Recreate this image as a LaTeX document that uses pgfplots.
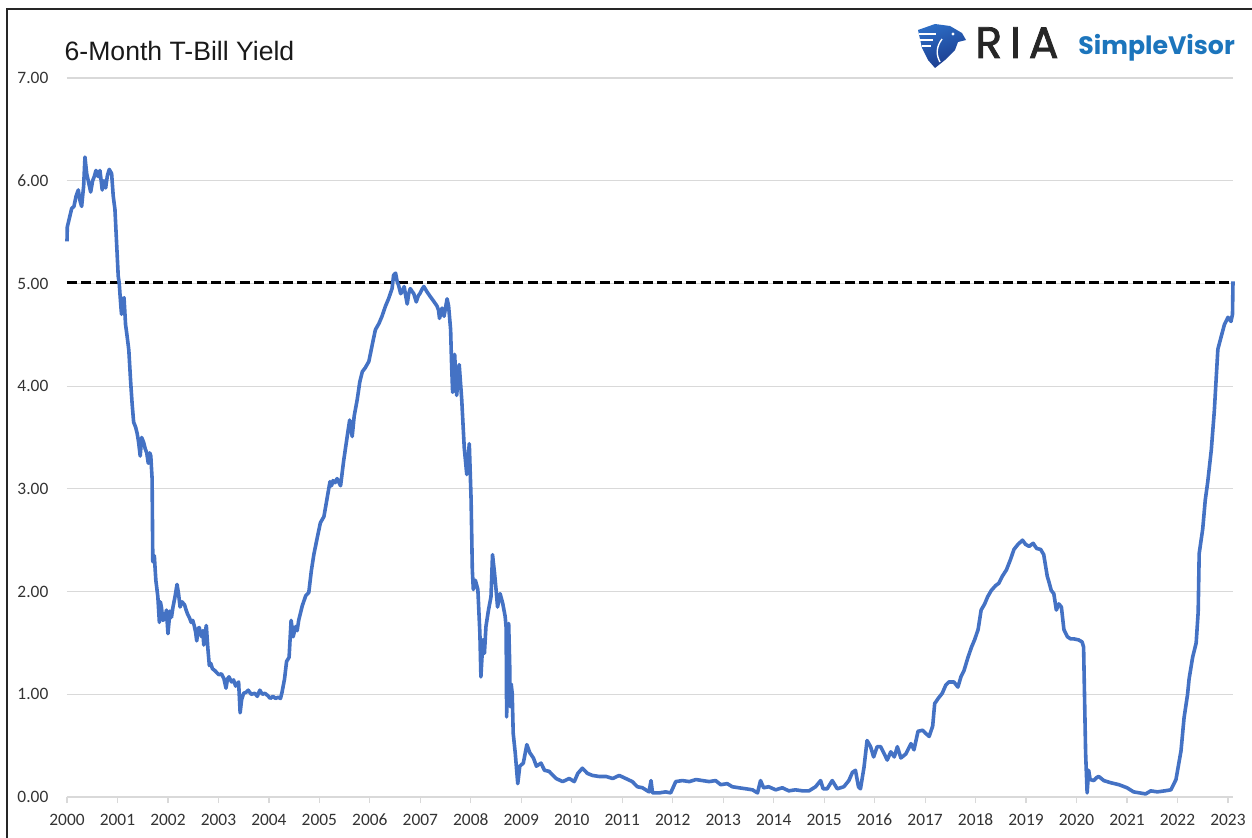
\documentclass[border=0pt]{standalone}
\usepackage{fontspec}
\setmainfont{Carlito}
\newfontfamily\titlefont{Liberation Sans}
\newfontfamily\logofont{Poppins}
\usepackage{pgfplots}
\pgfplotsset{compat=1.18}
\definecolor{lineblue}{HTML}{4472C4}
\definecolor{gridgray}{HTML}{D9D9D9}
\definecolor{ticktext}{HTML}{333333}
\definecolor{logoblue}{HTML}{1C75BC}
\definecolor{logodark}{HTML}{262626}
\definecolor{eagleA}{HTML}{1B3A8C}
\definecolor{eagleB}{HTML}{2C6CC4}
\begin{document}
\begin{tikzpicture}
\useasboundingbox (0pt,0pt) rectangle (626pt,418.5pt);
\begin{scope}[x=1pt,y=1pt]
\draw[line width=1pt, black!85] (3.6,-5) -- (3.6,414) -- (640,414);
% title
\node[anchor=west, font=\titlefont\fontsize{13.3}{15}\selectfont, text=black!90] at (28.8,393) {6-Month T-Bill Yield};
% logo
\shade[top color=eagleB, bottom color=eagleA, shading angle=20]
 (459,403.5) -- (467.5,406.5) -- (475,405.5) -- (481,402) -- (483,398.5) -- (479,397.5) -- (477.5,393.5)
 -- (472.5,388.5) -- (467.5,384.5) -- (464,388.5) -- (461,394.5) -- cycle;
\draw[white, line width=0.7pt] (459.5,401.5) -- (468,401.5);
\draw[white, line width=0.7pt] (460,398.5) -- (466.5,398.5);
\draw[white, line width=0.7pt] (461,395.5) -- (465.5,395.5);
\draw[white, line width=0.7pt] (471,399) .. controls (468,395) and (468,391) .. (470,387.5);
\fill[white] (476.5,401.5) circle (0.8);
\node[anchor=base west, inner sep=0, font=\logofont\fontsize{22}{23}\addfontfeature{LetterSpace=18,FakeBold=1.8}\selectfont, text=logodark] at (487.5,389.5) {RIA};
\node[anchor=base west, inner sep=0, font=\logofont\bfseries\fontsize{12.6}{14}\selectfont, text=logoblue] at (539,391) {SimpleVisor};
\end{scope}
\begin{axis}[
 at={(33.5pt,20pt)}, anchor=south west,
 scale only axis, width=583pt, height=359.5pt,
 xmin=2000, xmax=2023.1, ymin=0, ymax=7,
 axis line style={draw=none},
 clip=false,
 ytick={0,1,2,3,4,5,6,7},
 yticklabels={0.00,1.00,2.00,3.00,4.00,5.00,6.00,7.00},
 ymajorgrids, grid style={gridgray, line width=0.6pt},
 ytick style={draw=none},
 xtick={2000,2001,2002,2003,2004,2005,2006,2007,2008,2009,2010,2011,2012,2013,2014,2015,2016,2017,2018,2019,2020,2021,2022,2023},
 xticklabels={2000,2001,2002,2003,2004,2005,2006,2007,2008,2009,2010,2011,2012,2013,2014,2015,2016,2017,2018,2019,2020,2021,2022,2023},
 xtick pos=bottom, ytick pos=left,
 tick align=outside, major tick length=3pt,
 xtick style={draw=gridgray, line width=0.6pt},
 tick label style={font=\fontsize{8.7}{10}\selectfont, text=ticktext},
 yticklabel style={xshift=-2.8pt},
 xticklabel style={anchor=north, text height=6.2pt, text depth=0pt, yshift=-1.6pt},
]
\addplot[black, line width=1.6pt, dash pattern=on 5pt off 2.2pt] coordinates {(2000,5.01) (2023.1,5.01)};
\addplot[lineblue, line width=1.8pt, line join=round] table {
x y
2000.000 5.41
2000.006 5.55
2000.040 5.62
2000.093 5.73
2000.138 5.75
2000.180 5.85
2000.224 5.91
2000.260 5.80
2000.290 5.75
2000.330 5.95
2000.356 6.23
2000.390 6.07
2000.430 5.98
2000.469 5.89
2000.508 6.00
2000.540 6.04
2000.574 6.10
2000.619 6.04
2000.653 6.10
2000.698 5.91
2000.732 6.00
2000.766 5.93
2000.800 6.05
2000.837 6.11
2000.884 6.07
2000.916 5.85
2000.950 5.72
2000.983 5.39
2001.015 5.07
2001.035 5.00
2001.062 4.81
2001.080 4.70
2001.100 4.85
2001.130 4.86
2001.160 4.60
2001.190 4.49
2001.225 4.35
2001.260 4.05
2001.290 3.83
2001.320 3.65
2001.360 3.60
2001.390 3.54
2001.420 3.45
2001.450 3.32
2001.480 3.50
2001.520 3.45
2001.550 3.39
2001.580 3.35
2001.610 3.25
2001.640 3.35
2001.660 3.32
2001.686 3.10
2001.700 2.29
2001.730 2.35
2001.760 2.11
2001.800 1.95
2001.830 1.70
2001.850 1.90
2001.870 1.85
2001.900 1.72
2001.940 1.74
2001.970 1.82
2002.000 1.59
2002.040 1.81
2002.070 1.75
2002.100 1.85
2002.140 1.95
2002.180 2.07
2002.210 1.98
2002.240 1.85
2002.280 1.90
2002.330 1.87
2002.360 1.82
2002.390 1.78
2002.430 1.74
2002.460 1.70
2002.490 1.72
2002.520 1.67
2002.550 1.60
2002.570 1.52
2002.600 1.64
2002.620 1.65
2002.650 1.58
2002.670 1.56
2002.690 1.62
2002.710 1.48
2002.740 1.60
2002.760 1.67
2002.790 1.45
2002.820 1.28
2002.850 1.30
2002.880 1.25
2002.930 1.23
2003.010 1.19
2003.060 1.20
2003.110 1.15
2003.150 1.06
2003.180 1.15
2003.210 1.17
2003.260 1.12
2003.300 1.14
2003.340 1.08
2003.370 1.10
2003.400 1.12
2003.430 0.82
2003.460 0.95
2003.500 1.01
2003.550 1.02
2003.590 1.04
2003.650 1.00
2003.720 1.01
2003.770 0.98
2003.820 1.04
2003.870 1.00
2003.920 1.01
2003.970 0.99
2004.030 0.96
2004.080 0.98
2004.130 0.96
2004.180 0.97
2004.230 0.96
2004.260 1.02
2004.310 1.15
2004.350 1.32
2004.400 1.36
2004.440 1.72
2004.480 1.56
2004.530 1.66
2004.560 1.62
2004.590 1.72
2004.660 1.86
2004.730 1.96
2004.790 1.99
2004.840 2.20
2004.890 2.36
2004.960 2.53
2005.020 2.67
2005.090 2.73
2005.150 2.90
2005.210 3.07
2005.240 3.03
2005.270 3.08
2005.310 3.06
2005.350 3.10
2005.420 3.03
2005.480 3.27
2005.560 3.54
2005.600 3.67
2005.650 3.51
2005.690 3.71
2005.750 3.87
2005.800 4.04
2005.850 4.14
2005.910 4.18
2005.980 4.24
2006.050 4.41
2006.110 4.55
2006.180 4.61
2006.240 4.68
2006.310 4.78
2006.370 4.85
2006.440 4.95
2006.470 5.08
2006.510 5.10
2006.540 5.02
2006.570 4.98
2006.610 4.90
2006.640 4.92
2006.680 4.97
2006.710 4.88
2006.740 4.80
2006.770 4.90
2006.800 4.95
2006.840 4.92
2006.870 4.90
2006.920 4.82
2006.960 4.88
2006.990 4.90
2007.030 4.94
2007.070 4.97
2007.130 4.92
2007.200 4.87
2007.260 4.83
2007.330 4.78
2007.360 4.74
2007.380 4.66
2007.430 4.76
2007.470 4.68
2007.530 4.85
2007.560 4.78
2007.600 4.55
2007.620 4.20
2007.640 3.94
2007.680 4.31
2007.720 3.91
2007.770 4.21
2007.820 3.87
2007.870 3.40
2007.920 3.14
2007.970 3.44
2008.006 2.89
2008.030 2.21
2008.050 2.02
2008.090 2.11
2008.140 2.02
2008.180 1.59
2008.200 1.17
2008.240 1.53
2008.270 1.40
2008.300 1.66
2008.350 1.82
2008.400 1.95
2008.430 2.36
2008.470 2.18
2008.500 2.02
2008.530 1.85
2008.580 1.98
2008.630 1.89
2008.680 1.76
2008.700 1.65
2008.710 0.78
2008.730 1.60
2008.750 1.69
2008.770 1.30
2008.780 0.88
2008.800 1.10
2008.820 1.01
2008.840 0.62
2008.880 0.43
2008.930 0.13
2008.970 0.30
2009.040 0.33
2009.110 0.51
2009.170 0.43
2009.240 0.38
2009.300 0.30
2009.390 0.33
2009.460 0.26
2009.550 0.25
2009.690 0.18
2009.820 0.15
2009.950 0.18
2010.050 0.15
2010.120 0.23
2010.210 0.28
2010.310 0.23
2010.410 0.21
2010.540 0.20
2010.680 0.20
2010.810 0.18
2010.940 0.21
2011.070 0.18
2011.200 0.15
2011.300 0.10
2011.400 0.09
2011.530 0.05
2011.570 0.16
2011.600 0.04
2011.730 0.04
2011.860 0.05
2011.960 0.04
2012.060 0.15
2012.190 0.16
2012.330 0.15
2012.460 0.17
2012.590 0.16
2012.720 0.15
2012.850 0.16
2012.950 0.12
2013.080 0.13
2013.180 0.10
2013.310 0.09
2013.450 0.08
2013.580 0.07
2013.680 0.04
2013.740 0.16
2013.800 0.09
2013.900 0.10
2014.040 0.07
2014.170 0.09
2014.300 0.06
2014.430 0.07
2014.570 0.06
2014.700 0.06
2014.830 0.10
2014.930 0.16
2014.980 0.08
2015.060 0.08
2015.160 0.16
2015.260 0.08
2015.390 0.10
2015.490 0.16
2015.560 0.24
2015.620 0.26
2015.680 0.10
2015.720 0.08
2015.790 0.29
2015.850 0.55
2015.920 0.49
2015.980 0.39
2016.050 0.49
2016.120 0.49
2016.190 0.42
2016.250 0.36
2016.320 0.44
2016.390 0.39
2016.450 0.49
2016.520 0.38
2016.620 0.42
2016.720 0.52
2016.780 0.46
2016.860 0.64
2016.950 0.65
2017.010 0.62
2017.080 0.59
2017.150 0.69
2017.190 0.91
2017.260 0.96
2017.340 1.01
2017.410 1.09
2017.470 1.12
2017.570 1.12
2017.650 1.07
2017.710 1.17
2017.770 1.23
2017.850 1.36
2017.920 1.46
2017.980 1.53
2018.050 1.63
2018.110 1.82
2018.180 1.88
2018.240 1.95
2018.310 2.01
2018.400 2.06
2018.460 2.08
2018.530 2.15
2018.610 2.21
2018.690 2.31
2018.760 2.41
2018.840 2.46
2018.930 2.50
2018.990 2.46
2019.060 2.44
2019.140 2.47
2019.210 2.42
2019.290 2.41
2019.350 2.36
2019.420 2.15
2019.450 2.10
2019.500 2.01
2019.550 1.98
2019.600 1.82
2019.650 1.88
2019.700 1.85
2019.750 1.63
2019.820 1.56
2019.880 1.54
2019.940 1.54
2020.040 1.53
2020.110 1.51
2020.140 1.46
2020.180 0.43
2020.210 0.04
2020.240 0.26
2020.270 0.17
2020.340 0.16
2020.400 0.19
2020.440 0.20
2020.540 0.16
2020.670 0.14
2020.840 0.12
2021.000 0.09
2021.130 0.05
2021.370 0.03
2021.470 0.06
2021.600 0.05
2021.750 0.06
2021.870 0.07
2021.970 0.17
2022.070 0.45
2022.130 0.77
2022.200 1.00
2022.230 1.15
2022.300 1.36
2022.370 1.50
2022.410 1.80
2022.430 2.37
2022.500 2.61
2022.550 2.89
2022.600 3.07
2022.670 3.38
2022.730 3.76
2022.800 4.36
2022.870 4.49
2022.930 4.60
2023.000 4.67
2023.060 4.63
2023.090 4.70
2023.100 5.02
};
\end{axis}
\end{tikzpicture}
\end{document}
